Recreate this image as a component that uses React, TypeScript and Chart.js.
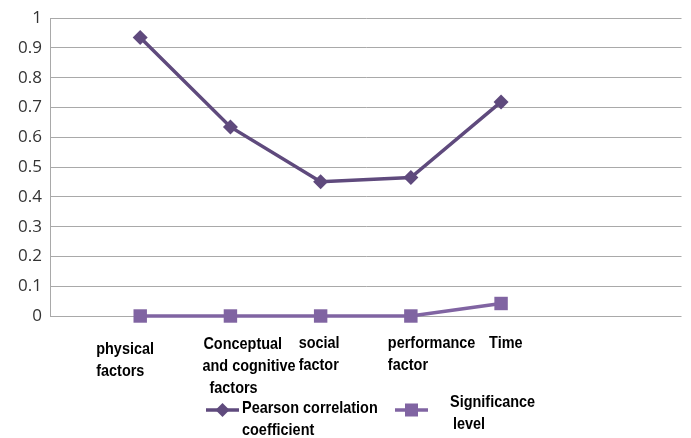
import React, { useEffect, useRef } from "react";
import { Chart, registerables } from "chart.js";

Chart.register(...registerables);

// ---- data ----
const categories: string[] = ["", "physical factors", "Conceptual and cognitive factors", "social factor", "performance factor", "Time", "", ""];
const categoryLines: string[][] = [[], ["physical", "factors"], ["Conceptual", "and cognitive", "factors"], ["social", "factor"], ["performance", "factor"], ["Time"], [], []];
const pearson: (number | null)[] = [null, 0.935, 0.635, 0.451, 0.465, 0.719, null, null];
const significance: (number | null)[] = [null, 0, 0, 0, 0, 0.042, null, null];
const yTicks: number[] = [0, 0.1, 0.2, 0.3, 0.4, 0.5, 0.6, 0.7, 0.8, 0.9, 1];
const seriesNames: string[][] = [["Pearson correlation", "coefficient"], ["Significance", "level"]];

// ---- styles ----
const PEARSON_COLOR = "#5f4a7d";
const SIG_COLOR = "#8064a2";
const GRID_COLOR = "#a9a9a9";
// per-category label placement: [dx of each line's left edge from point, first line center y]
const labelLayout: { dx: number[]; y: number }[] = [
  { dx: [], y: 343 },
  { dx: [-44, -44], y: 349 },
  { dx: [-27, -28, -21], y: 344 },
  { dx: [-22, -22], y: 343 },
  { dx: [-23, -23], y: 343 },
  { dx: [-12], y: 343 },
  { dx: [], y: 343 },
  { dx: [], y: 343 },
];
const LINE_H = 22;
const LABEL_FONT = "bold 17px 'Liberation Sans', Arial, sans-serif";
const X_SCALE = 0.85;

function drawText(ctx: CanvasRenderingContext2D, text: string, x: number, y: number) {
  ctx.save();
  ctx.translate(x, y);
  ctx.scale(X_SCALE, 1);
  ctx.fillText(text, 0, 0);
  ctx.restore();
}

const labelsPlugin = {
  id: "customLabels",
  afterDraw(chart: any) {
    const ctx: CanvasRenderingContext2D = chart.ctx;
    const xs = chart.scales.x;
    ctx.save();
    ctx.font = LABEL_FONT;
    ctx.fillStyle = "#000";
    ctx.textAlign = "left";
    ctx.textBaseline = "middle";
    categoryLines.forEach((lines, i) => {
      const px = xs.getPixelForValue(i);
      const lay = labelLayout[i];
      lines.forEach((ln, j) => {
        drawText(ctx, ln, px + (lay.dx[j] ?? 0), lay.y + j * LINE_H);
      });
    });

    // legend
    const items = [
      { color: PEARSON_COLOR, style: "rectRot", r: 7, x0: 206, x1: 239, y: 410, tx: [242, 242], ty: 408 },
      { color: SIG_COLOR, style: "rect", r: 9.2, x0: 395, x1: 428, y: 410, tx: [450, 453], ty: 402 },
    ];
    items.forEach((it, k) => {
      ctx.strokeStyle = it.color;
      ctx.lineWidth = 3.5;
      ctx.beginPath();
      ctx.moveTo(it.x0, it.y);
      ctx.lineTo(it.x1, it.y);
      ctx.stroke();
      ctx.fillStyle = it.color;
      const cx = (it.x0 + it.x1) / 2;
      if (it.style === "rectRot") {
        ctx.beginPath();
        ctx.moveTo(cx - it.r, it.y);
        ctx.lineTo(cx, it.y - it.r);
        ctx.lineTo(cx + it.r, it.y);
        ctx.lineTo(cx, it.y + it.r);
        ctx.closePath();
        ctx.fill();
      } else {
        const h = 6.5;
        ctx.fillRect(cx - h, it.y - h, 2 * h, 2 * h);
      }
      ctx.fillStyle = "#000";
      seriesNames[k].forEach((ln, j) => {
        drawText(ctx, ln, it.tx[j], it.ty + j * LINE_H);
      });
    });
    ctx.restore();
  },
};

export default function App() {
  const ref = useRef<HTMLCanvasElement | null>(null);
  useEffect(() => {
    document.body.style.margin = "0";
    const chart = new Chart(ref.current as HTMLCanvasElement, {
      type: "line",
      data: {
        labels: categories,
        datasets: [
          {
            label: seriesNames[0].join(" "),
            data: pearson,
            borderColor: PEARSON_COLOR,
            backgroundColor: PEARSON_COLOR,
            borderWidth: 3.5,
            pointStyle: "rectRot",
            pointRadius: 7.5,
            pointBorderWidth: 0,
            tension: 0,
            clip: false,
          },
          {
            label: seriesNames[1].join(" "),
            data: significance,
            borderColor: SIG_COLOR,
            backgroundColor: SIG_COLOR,
            borderWidth: 3.5,
            pointStyle: "rect",
            pointRadius: 9.5,
            pointBorderWidth: 0,
            tension: 0,
            clip: false,
          },
        ],
      },
      options: {
        animation: false,
        responsive: true,
        maintainAspectRatio: false,
        layout: { padding: { top: 17, right: 8, left: 0, bottom: 0 } },
        plugins: { legend: { display: false }, tooltip: { enabled: false }, title: { display: false } },
        scales: {
          x: {
            type: "category",
            offset: false,
            grid: { display: false },
            border: { display: false },
            ticks: { display: false },
            afterFit(scale: any) {
              scale.height = 122;
            },
          },
          y: {
            min: 0,
            max: 1,
            afterBuildTicks(scale: any) {
              scale.ticks = yTicks.map((v) => ({ value: v }));
            },
            ticks: {
              padding: 8,
              color: "#333",
              font: { family: "'Open Sans', sans-serif", size: 17 },
              callback: (v: any) => String(Number(Number(v).toFixed(1))),
            },
            grid: { color: GRID_COLOR, drawTicks: false, lineWidth: 1 },
            border: { color: GRID_COLOR, width: 1 },
            afterFit(scale: any) {
              scale.width = 50;
            },
          },
        },
      },
      plugins: [labelsPlugin],
    } as any);
    return () => chart.destroy();
  }, []);
  return (
    <div style={{ width: 691, height: 438, position: "relative" }}>
      <canvas ref={ref} />
    </div>
  );
}
